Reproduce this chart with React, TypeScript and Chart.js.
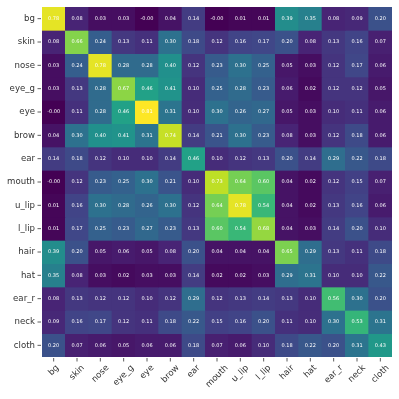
import React, { useEffect, useRef } from "react";
import { Chart, registerables } from "chart.js";

Chart.register(...registerables);

const labels = ["bg", "skin", "nose", "eye_g", "eye", "brow", "ear", "mouth", "u_lip", "l_lip", "hair", "hat", "ear_r", "neck", "cloth"];

const rowBg = [0.78, 0.08, 0.03, 0.03, -0.001, 0.04, 0.14, -0.001, 0.01, 0.01, 0.39, 0.35, 0.08, 0.09, 0.20];
const rowSkin = [0.08, 0.66, 0.24, 0.13, 0.11, 0.30, 0.18, 0.12, 0.16, 0.17, 0.20, 0.08, 0.13, 0.16, 0.07];
const rowNose = [0.03, 0.24, 0.78, 0.28, 0.28, 0.40, 0.12, 0.23, 0.30, 0.25, 0.05, 0.03, 0.12, 0.17, 0.06];
const rowEyeG = [0.03, 0.13, 0.28, 0.67, 0.46, 0.41, 0.10, 0.25, 0.28, 0.23, 0.06, 0.02, 0.12, 0.12, 0.05];
const rowEye = [-0.001, 0.11, 0.28, 0.46, 0.81, 0.31, 0.10, 0.30, 0.26, 0.27, 0.05, 0.03, 0.10, 0.11, 0.06];
const rowBrow = [0.04, 0.30, 0.40, 0.41, 0.31, 0.74, 0.14, 0.21, 0.30, 0.23, 0.08, 0.03, 0.12, 0.18, 0.06];
const rowEar = [0.14, 0.18, 0.12, 0.10, 0.10, 0.14, 0.46, 0.10, 0.12, 0.13, 0.20, 0.14, 0.29, 0.22, 0.18];
const rowMouth = [-0.001, 0.12, 0.23, 0.25, 0.30, 0.21, 0.10, 0.73, 0.64, 0.60, 0.04, 0.02, 0.12, 0.15, 0.07];
const rowULip = [0.01, 0.16, 0.30, 0.28, 0.26, 0.30, 0.12, 0.64, 0.78, 0.54, 0.04, 0.02, 0.13, 0.16, 0.06];
const rowLLip = [0.01, 0.17, 0.25, 0.23, 0.27, 0.23, 0.13, 0.60, 0.54, 0.68, 0.04, 0.03, 0.14, 0.20, 0.10];
const rowHair = [0.39, 0.20, 0.05, 0.06, 0.05, 0.08, 0.20, 0.04, 0.04, 0.04, 0.65, 0.29, 0.13, 0.11, 0.18];
const rowHat = [0.35, 0.08, 0.03, 0.02, 0.03, 0.03, 0.14, 0.02, 0.02, 0.03, 0.29, 0.31, 0.10, 0.10, 0.22];
const rowEarR = [0.08, 0.13, 0.12, 0.12, 0.10, 0.12, 0.29, 0.12, 0.13, 0.14, 0.13, 0.10, 0.56, 0.30, 0.20];
const rowNeck = [0.09, 0.16, 0.17, 0.12, 0.11, 0.18, 0.22, 0.15, 0.16, 0.20, 0.11, 0.10, 0.30, 0.53, 0.31];
const rowCloth = [0.20, 0.07, 0.06, 0.05, 0.06, 0.06, 0.18, 0.07, 0.06, 0.10, 0.18, 0.22, 0.20, 0.31, 0.43];

const matrix = [rowBg, rowSkin, rowNose, rowEyeG, rowEye, rowBrow, rowEar, rowMouth, rowULip, rowLLip, rowHair, rowHat, rowEarR, rowNeck, rowCloth];

const viridis = [
  [68, 1, 84], [72, 36, 117], [65, 68, 135], [53, 95, 141], [42, 120, 142],
  [33, 145, 140], [34, 168, 132], [68, 191, 112], [122, 209, 81], [189, 223, 38], [253, 231, 37],
];

function colorFor(v: number, vmin: number, vmax: number) {
  let t = (v - vmin) / (vmax - vmin);
  t = Math.max(0, Math.min(1, t));
  const p = t * 10;
  const i = Math.min(9, Math.floor(p));
  const f = p - i;
  const a = viridis[i], b = viridis[i + 1];
  const c = a.map((x, k) => Math.round(x + (b[k] - x) * f));
  return `rgb(${c[0]},${c[1]},${c[2]})`;
}

const FONT = "'DejaVu Sans', sans-serif";

export default function App() {
  const ref = useRef<HTMLCanvasElement | null>(null);
  useEffect(() => {
    document.body.style.margin = "0";
    const all = matrix.flat();
    const vmin = Math.min(...all);
    const vmax = Math.max(...all);
    const datasets = matrix.map((row, r) => ({
      label: labels[r],
      data: row.map(() => [r, r + 1] as [number, number]),
      backgroundColor: row.map((v) => colorFor(v, vmin, vmax)),
      borderWidth: 0,
      barPercentage: 1,
      categoryPercentage: 1,
      grouped: false,
    }));

    const overlay = {
      id: "overlay",
      afterDatasetsDraw(chart: any) {
        const ctx = chart.ctx;
        const xs = chart.scales.x;
        const ys = chart.scales.y;
        const area = chart.chartArea;
        ctx.save();
        // cell values
        ctx.fillStyle = "#ffffff";
        ctx.font = `5px ${FONT}`;
        ctx.textAlign = "center";
        ctx.textBaseline = "middle";
        matrix.forEach((row, r) => {
          row.forEach((v, c) => {
            ctx.fillText(v.toFixed(2), xs.getPixelForValue(c), ys.getPixelForValue(r + 0.5));
          });
        });
        // ticks
        ctx.strokeStyle = "#333333";
        ctx.lineWidth = 0.8;
        ctx.fillStyle = "#333333";
        ctx.font = `8.6px ${FONT}`;
        labels.forEach((lab, i) => {
          const y = ys.getPixelForValue(i + 0.5);
          ctx.beginPath();
          ctx.moveTo(area.left - 4.5, y);
          ctx.lineTo(area.left - 1, y);
          ctx.stroke();
          ctx.textAlign = "right";
          ctx.textBaseline = "middle";
          ctx.fillText(lab, area.left - 7, y);

          const x = xs.getPixelForValue(i);
          ctx.beginPath();
          ctx.moveTo(x, area.bottom + 1);
          ctx.lineTo(x, area.bottom + 4.5);
          ctx.stroke();
          const w = ctx.measureText(lab).width;
          const h = 7;
          const box = (w + h) * Math.SQRT1_2;
          ctx.save();
          ctx.translate(x, area.bottom + 7 + box / 2);
          ctx.rotate(-Math.PI / 4);
          ctx.textAlign = "center";
          ctx.textBaseline = "middle";
          ctx.fillText(lab, 0, 0);
          ctx.restore();
        });
        ctx.restore();
      },
    };

    const chart = new Chart(ref.current as HTMLCanvasElement, {
      type: "bar",
      data: { labels, datasets: datasets as any },
      options: {
        animation: false,
        responsive: false,
        maintainAspectRatio: false,
        layout: { padding: { left: 42, right: 7, top: 7, bottom: 42 } },
        plugins: { legend: { display: false }, tooltip: { enabled: false } },
        scales: {
          x: { type: "category", display: false, offset: true },
          y: { type: "linear", display: false, min: 0, max: 15, reverse: true },
        },
      },
      plugins: [overlay],
    });
    return () => chart.destroy();
  }, []);
  return (
    <div style={{ width: 399, height: 399 }}>
      <canvas ref={ref} width={399} height={399} style={{ display: "block" }} />
    </div>
  );
}
